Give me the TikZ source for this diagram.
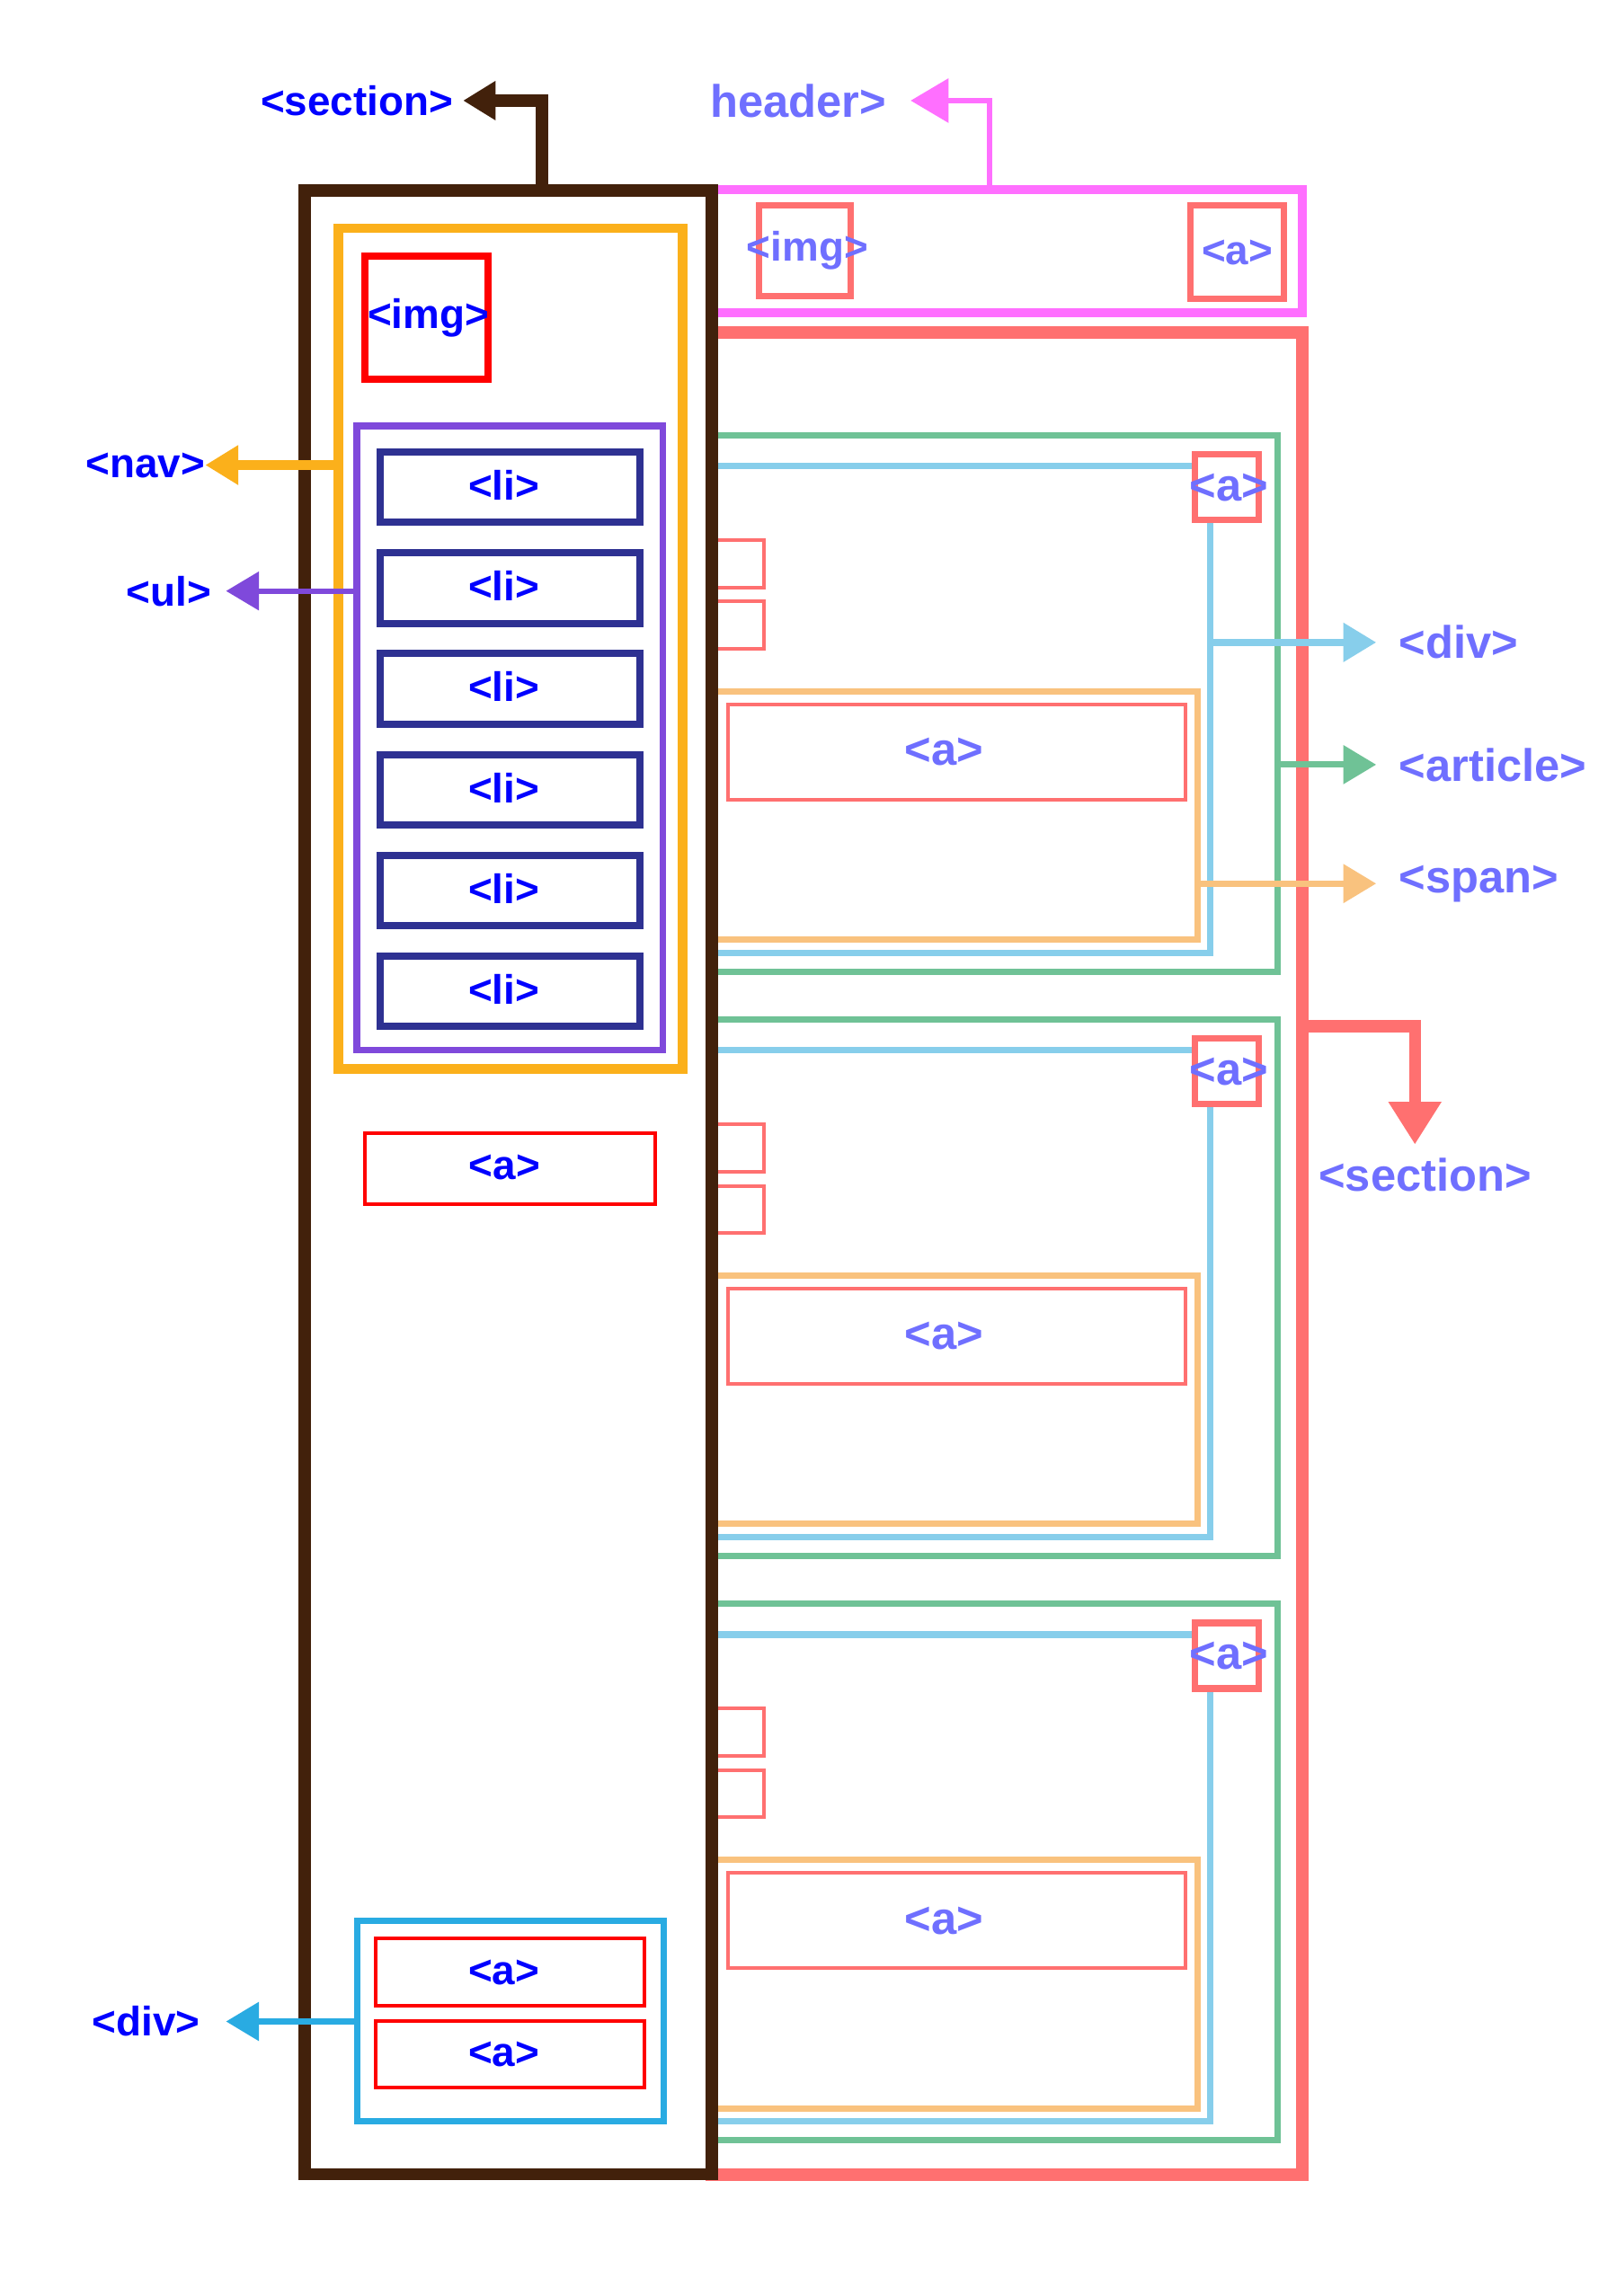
\documentclass[tikz,border=0pt]{standalone}
\usepackage{fontspec}
\setmainfont{Liberation Sans}
\usetikzlibrary{arrows.meta,positioning,fit}

\definecolor{tagblue}{HTML}{0000FF}
\definecolor{taglilac}{HTML}{6F6FFF}
\definecolor{secbrown}{HTML}{42210B}
\definecolor{navorange}{HTML}{FBB01B}
\definecolor{ulpurple}{HTML}{7F49DB}
\definecolor{linavy}{HTML}{2E3192}
\definecolor{footblue}{HTML}{29ABE2}
\definecolor{salmon}{HTML}{FF7070}
\definecolor{hdrpink}{HTML}{FF6FFF}
\definecolor{artgreen}{HTML}{6FC296}
\definecolor{divsky}{HTML}{87CEEB}
\definecolor{spanpeach}{HTML}{F9C27E}

\begin{document}
\begin{tikzpicture}[
  x=0.02cm, y=-0.02cm,
  font=\fontsize{16pt}{19pt}\selectfont\bfseries,
  bigfont/.style={font=\fontsize{17.7pt}{21pt}\selectfont\bfseries},
  tagbox/.style={draw, rectangle, inner sep=0pt, outer sep=0pt},
  secbox/.style={tagbox, draw=secbrown, line width=4.8pt},
  mainbox/.style={tagbox, draw=salmon, line width=4.9pt},
  hdrbox/.style={tagbox, draw=hdrpink, line width=3.5pt},
  navbox/.style={tagbox, draw=navorange, line width=3.8pt},
  ulbox/.style={tagbox, draw=ulpurple, line width=2.55pt},
  libox/.style={tagbox, draw=linavy, line width=2.8pt},
  imgbox/.style={tagbox, draw=red, line width=2.8pt},
  linkbox/.style={tagbox, draw=red, line width=1.4pt},
  footbox/.style={tagbox, draw=footblue, line width=2.45pt},
  hlink/.style={tagbox, draw=salmon, line width=2.55pt},
  artbox/.style={tagbox, draw=artgreen, line width=2.45pt},
  divbox/.style={tagbox, draw=divsky, line width=2.45pt},
  spanbox/.style={tagbox, draw=spanpeach, line width=2.45pt},
  thinlink/.style={tagbox, draw=salmon, line width=1.4pt},
  artlink/.style={tagbox, draw=salmon, line width=2.5pt, fill=white},
  lefttag/.style={inner sep=0pt, text=tagblue},
  hdrtag/.style={inner sep=0pt, text=taglilac},
  righttag/.style={inner sep=0pt, text=taglilac, bigfont},
  ptr/.style={-{Triangle[length=12.8pt,width=14.6pt]}}
]
\path[use as bounding box, fill=white] (0,0) rectangle (1103,1568);

% main section
\node[mainbox, fit={(486.1,226.9) (889.4,1485.4)}] (rsec) {};

% header
\node[hdrbox, fit={(486.1,129.3) (889.1,213.6)}] (hdr) {};
\node[hlink, fit={(518.4,140.4) (580.8,202.2)}] (hdrimg) {};
\node[hdrtag] (hdrimgtxt) at ([xshift=1pt]hdrimg.center) {<img>};
\node[hlink, fit={(813.0,140.4) (876.6,203.9)}] (hdrlink) {};
\node[hdrtag] (hdrlinktxt) at (hdrlink.center) {<a>};

% articles
\foreach \k [evaluate=\k as \dy using 399*\k] in {0,1,2}{
  \node[artbox, fit={(486.1,297.4+\dy) (872.3,663.7+\dy)}] (art\k) {};
  \node[divbox, fit={(486.1,318.3+\dy) (826.4,650.9+\dy)}] (div\k) {};
  \node[thinlink, fit={(486.1,368.9+\dy) (521.5,401.2+\dy)}] (tagA\k) {};
  \node[thinlink, fit={(486.1,410.8+\dy) (521.5,442.8+\dy)}] (tagB\k) {};
  \node[spanbox, fit={(486.1,472.0+\dy) (818.0,641.8+\dy)}] (span\k) {};
  \node[thinlink, fit={(496.8,481.0+\dy) (809.5,546.0+\dy)}] (more\k) {};
  \node[righttag] (moretxt\k) at ([xshift=-4.9pt]more\k.center) {<a>};
  \node[artlink, fit={(815.8,310.3+\dy) (859.6,355.1+\dy)}] (top\k) {};
  \node[righttag] (toptxt\k) at ([xshift=0.8pt]top\k.center) {<a>};
}

% sidebar
\node[secbox, fit={(208.0,130.3) (486.1,1484.8)}] (side) {};
\node[navbox, fit={(230.9,155.9) (465.9,730.1)}] (nav) {};
\node[imgbox, fit={(249.2,174.9) (333.1,258.8)}] (logo) {};
\node[lefttag] (logotxt) at ([xshift=0.8pt]logo.center) {<img>};
\node[ulbox, fit={(243.7,290.9) (452.8,717.3)}] (menu) {};
\foreach \k [evaluate=\k as \dy using 68.86*\k] in {0,...,5}{
  \node[libox, fit={(259.6,308.7+\dy) (437.0,356.8+\dy)}] (item\k) {};
  \node[lefttag] (itemtxt\k) at ([xshift=-2.4pt,yshift=0.8pt]item\k.center) {<li>};
}
\node[linkbox, fit={(249.4,773.6) (447.3,822.6)}] (sidelink) {};
\node[lefttag] (sidelinktxt) at ([xshift=-2.2pt,yshift=0.5pt]sidelink.center) {<a>};
\node[footbox, fit={(244.1,1311.6) (453.3,1448.7)}] (foot) {};
\node[linkbox, fit={(256.8,1324.0) (440.1,1369.9)}] (footA) {};
\node[lefttag] (footAtxt) at ([xshift=-2.5pt]footA.center) {<a>};
\node[linkbox, fit={(256.8,1380.0) (440.1,1425.9)}] (footB) {};
\node[lefttag] (footBtxt) at ([xshift=-2.5pt]footB.center) {<a>};

% pointers to the tag names
\coordinate (sidebend) at (370.1,68.7);
\coordinate (sidetip) at (316.2,68.7);
\node[lefttag, left=3.7pt of sidetip] (sidetag) {<section>};
\draw[secbrown, line width=4.9pt, -{Triangle[length=12.6pt,width=14.4pt]}]
  (sidebend |- side.north) -- (sidebend) -- (sidetip);

\coordinate (hdrbend) at (675.7,68.7);
\coordinate (hdrtip) at (621.8,68.7);
\node[righttag, left=9.2pt of hdrtip] (hdrname) {header>};
\draw[hdrpink, line width=2.1pt, -{Triangle[length=14.7pt,width=16.8pt]}]
  (hdrbend |- hdr.north) -- (hdrbend) -- (hdrtip);

\coordinate (navtip) at (140.2,317.6);
\node[lefttag, left=0pt of navtip] (navtag) {<nav>};
\draw[ptr, navorange, line width=3.6pt] (nav.west |- navtip) -- (navtip);

\coordinate (ultip) at (154.3,403.6);
\node[lefttag, left=5.6pt of ultip] (ultag) {<ul>};
\draw[ptr, ulpurple, line width=2.2pt] (menu.west |- ultip) -- (ultip);

\coordinate (foottip) at (154.3,1380.5);
\node[lefttag, left=9.9pt of foottip] (foottag) {<div>};
\draw[ptr, footblue, line width=2.45pt] (foot.west |- foottip) -- (foottip);

\coordinate (divtip) at (939.7,438.7);
\coordinate (arttip) at (939.7,522.2);
\coordinate (spantip) at (939.7,603.4);
\node[righttag, right=8.8pt of divtip] (divtag) {<div>};
\node[righttag, right=8.8pt of arttip] (arttag) {<article>};
\node[righttag, right=8.8pt of spantip] (spantag) {<span>};
\draw[ptr, divsky, line width=2.8pt] (div0.east |- divtip) -- (divtip);
\draw[ptr, artgreen, line width=2.45pt] (art0.east |- arttip) -- (arttip);
\draw[ptr, spanpeach, line width=2.55pt] (span0.east |- spantip) -- (spantip);

\coordinate (mainbend) at (966.1,700.8);
\coordinate (maintip) at (966.1,781.6);
\node[righttag, below=5pt of maintip, xshift=4pt] (maintag) {<section>};
\draw[salmon, line width=4.65pt, -{Triangle[length=16.6pt,width=19.5pt]}]
  (rsec.east |- mainbend) -- (mainbend) -- (maintip);
\end{tikzpicture}
\end{document}
